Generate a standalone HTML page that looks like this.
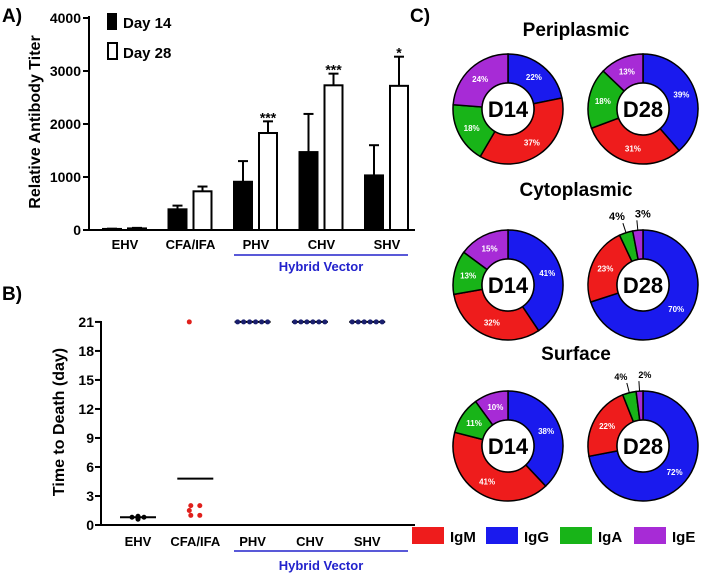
<!DOCTYPE html>
<html><head><meta charset="utf-8"><style>
body{margin:0;background:#fff;width:703px;height:578px;overflow:hidden;font-family:"Liberation Sans",Arial,sans-serif;}
svg text{font-family:"Liberation Sans",Arial,sans-serif;font-weight:bold;}
</style></head><body>
<svg id="s" width="703" height="578" viewBox="0 0 703 578">
<text x="2" y="22" font-size="19">A)</text>
<text x="2" y="300" font-size="19">B)</text>
<text x="410" y="22" font-size="19">C)</text>
<g id="ga"></g>
<g id="gb"></g>
<g id="gc"></g>
</svg>
<script>
const catsA=["EHV","CFA/IFA","PHV","CHV","SHV"];
const day14=[20,390,910,1470,1030];
const day14Err=[25,460,1300,2190,1600];
const day28=[30,730,1830,2730,2720];
const day28Err=[40,820,2050,2950,3270];
const sigA=["","","***","***","*"];
const ticksA=[0,1000,2000,3000,4000];
const catsB=["EHV","CFA/IFA","PHV","CHV","SHV"];
const ptsB=[[0.8,0.7,0.8,0.6,0.8,0.9],[21,2,2,1.5,1,1],[21,21,21,21,21,21],[21,21,21,21,21,21],[21,21,21,21,21,21]];
const meanB=[0.8,4.8,21,21,21];
const ticksB=[0,3,6,9,12,15,18,21];
const donutTitles=["Periplasmic","Cytoplasmic","Surface"];
const isoNames=["IgG","IgM","IgA","IgE"];
const perD14=[22,37,18,24], perD28=[39,31,18,13];
const cytD14=[41,32,13,15], cytD28=[70,23,4,3];
const surD14=[38,41,11,10], surD28=[72,22,4,2];
const NS="http://www.w3.org/2000/svg";
function mk(p,t,a,txt){const e=document.createElementNS(NS,t);for(const k in a)e.setAttribute(k,a[k]);if(txt!==undefined)e.textContent=txt;p.appendChild(e);return e;}
// Panel A
const ga=document.getElementById('ga');
const yA=v=>230-v*0.053, xA=i=>125+i*65.5;
mk(ga,'line',{x1:89,y1:16,x2:89,y2:231,stroke:'#000','stroke-width':2});
mk(ga,'line',{x1:88,y1:230,x2:415,y2:230,stroke:'#000','stroke-width':2});
ticksA.forEach(t=>{mk(ga,'line',{x1:83,y1:yA(t),x2:89,y2:yA(t),stroke:'#000','stroke-width':2});
 const e=mk(ga,'text',{x:81,y:yA(t)+5,'font-size':14,'text-anchor':'end'},t);
 });
const ya=mk(ga,'text',{x:0,y:0,'font-size':16,'text-anchor':'middle',transform:'translate(40,122) rotate(-90)'},'Relative Antibody Titer');

catsA.forEach((c,i)=>{const cx=xA(i);
 [[day14,day14Err,'#000',-13],[day28,day28Err,'#fff',12]].forEach(([v,er,f,o])=>{
  const bx=cx+o-9;
  mk(ga,'line',{x1:bx+9,y1:yA(v[i]),x2:bx+9,y2:yA(er[i]),stroke:'#000','stroke-width':2});
  mk(ga,'line',{x1:bx+4,y1:yA(er[i]),x2:bx+14,y2:yA(er[i]),stroke:'#000','stroke-width':2});
  const r=mk(ga,'rect',{x:bx,y:yA(v[i]),width:18,height:230-yA(v[i]),fill:f,stroke:'#000','stroke-width':2});
  
 });
 if(sigA[i]){const s=mk(ga,'text',{x:cx+12,y:yA(day28Err[i])+1,'font-size':14,'text-anchor':'middle','font-weight':'normal'},sigA[i]);
  }
 const l=mk(ga,'text',{x:cx,y:249,'font-size':13,'text-anchor':'middle'},c);
 
});
mk(ga,'line',{x1:234,y1:255,x2:408,y2:255,stroke:'#2222cc','stroke-width':1.5});
const hv=mk(ga,'text',{x:321,y:271,'font-size':13,'text-anchor':'middle',fill:'#2222cc'},'Hybrid Vector');

const lg=mk(ga,'g',{});
mk(lg,'rect',{x:107,y:13,width:10,height:17,fill:'#000'});
mk(lg,'text',{x:123,y:28,'font-size':15,'font-weight':'normal'},'Day 14');
mk(lg,'rect',{x:108,y:43,width:9,height:16,fill:'#fff',stroke:'#000','stroke-width':2});
mk(lg,'text',{x:123,y:58,'font-size':15,'font-weight':'normal'},'Day 28');
// Panel B
const gb=document.getElementById('gb');
const yB=v=>525-v*9.67, xB=i=>138+i*57.3;
mk(gb,'line',{x1:101,y1:321,x2:101,y2:526,stroke:'#000','stroke-width':2});
mk(gb,'line',{x1:100,y1:525,x2:415,y2:525,stroke:'#000','stroke-width':2});
ticksB.forEach(t=>{mk(gb,'line',{x1:95,y1:yB(t),x2:101,y2:yB(t),stroke:'#000','stroke-width':2});
 const e=mk(gb,'text',{x:94,y:yB(t)+5,'font-size':14,'text-anchor':'end','font-weight':'normal'},t);
 });
const yb=mk(gb,'text',{x:0,y:0,'font-size':16,'text-anchor':'middle',transform:'translate(64,422) rotate(-90)'},'Time to Death (day)');

const colB=['#000','#e0201c','#1a1f6e','#1a1f6e','#1a1f6e'];
catsB.forEach((c,i)=>{const cx=xB(i);
 mk(gb,'line',{x1:cx-18,y1:yB(meanB[i]),x2:cx+18,y2:yB(meanB[i]),stroke:'#000','stroke-width':2});
 const pts=ptsB[i];const grp={};
 pts.forEach(v=>{grp[v]=(grp[v]||0)+1;});
 const seen={};
 pts.forEach(v=>{const n=grp[v];const k=seen[v]=(seen[v]||0)+1;
  const dx=n===1?(i===0?0:-6):(k-1-(n-1)/2)*(i===0?6:(n>2?6:9));
  const p=mk(gb,'circle',{cx:cx+dx,cy:yB(v),r:2.5,fill:colB[i]});
  });
 const l=mk(gb,'text',{x:cx,y:546,'font-size':13,'text-anchor':'middle'},c);
 
});
mk(gb,'line',{x1:234,y1:551,x2:408,y2:551,stroke:'#2222cc','stroke-width':1.5});
const hb=mk(gb,'text',{x:321,y:570,'font-size':13,'text-anchor':'middle',fill:'#2222cc'},'Hybrid Vector');

// Panel C
const gc=document.getElementById('gc');
const cols=['#1a1aee','#ee1c1c','#18b418','#a72bd6'];
const rows=[[perD14,perD28],[cytD14,cytD28],[surD14,surD28]];
const cyR=[109,285,446], tyR=[36,196,360];
const cxC=[508,643];
function donut(vals,cx,cy,lab,outsideLabels){
 const g=mk(gc,'g',{});
 const tot=vals.reduce((a,b)=>a+b,0);let a0=0;const R=55,r=26;
 vals.forEach((v,j)=>{const a1=a0+v/tot*2*Math.PI;
  const P=(rr,a)=>[cx+rr*Math.sin(a),cy-rr*Math.cos(a)];
  const [x1,y1]=P(R,a0),[x2,y2]=P(R,a1),[x3,y3]=P(r,a1),[x4,y4]=P(r,a0);const lf=a1-a0>Math.PI?1:0;
  const s=mk(g,'path',{d:`M${x1},${y1}A${R},${R} 0 ${lf} 1 ${x2},${y2}L${x3},${y3}A${r},${r} 0 ${lf} 0 ${x4},${y4}Z`,fill:cols[j],stroke:'#000','stroke-width':1.5});
  
  const am=(a0+a1)/2;
  if(outsideLabels&&v<8){const [ax,ay]=P(R,am),[bx,by]=P(R+10,am);
   mk(g,'line',{x1:ax,y1:ay,x2:bx,y2:by,stroke:'#000','stroke-width':1});
   mk(g,'text',{x:bx+(j===2?-6:6),y:by-3,'font-size':outsideLabels===1?11:9,'text-anchor':'middle'},v+'%');}
  else{const [tx,ty]=P(41,am);
   mk(g,'text',{x:tx,y:ty+3,'font-size':8,'text-anchor':'middle',fill:'#fff','font-weight':'normal'},v+'%');}
  a0=a1;});
 mk(g,'circle',{cx:cx,cy:cy,r:r,fill:'#fff',stroke:'#000','stroke-width':1.5});
 mk(g,'text',{x:cx,y:cy+8,'font-size':22,'text-anchor':'middle'},lab);
}
rows.forEach((rw,k)=>{
 const t=mk(gc,'text',{x:576,y:tyR[k],'font-size':19,'text-anchor':'middle'},donutTitles[k]);
 
 donut(rw[0],cxC[0],cyR[k],'D14',0);donut(rw[1],cxC[1],cyR[k],'D28',k===1?1:(k===2?2:0));
});
const lgc=mk(gc,'g',{});
[['IgM','#ee1c1c'],['IgG','#1a1aee'],['IgA','#18b418'],['IgE','#a72bd6']].forEach(([n,c],j)=>{
 const x=412+j*74;mk(lgc,'rect',{x:x,y:527,width:32,height:17,fill:c});
 mk(lgc,'text',{x:x+38,y:542,'font-size':15},n);});
</script>
</body></html>
